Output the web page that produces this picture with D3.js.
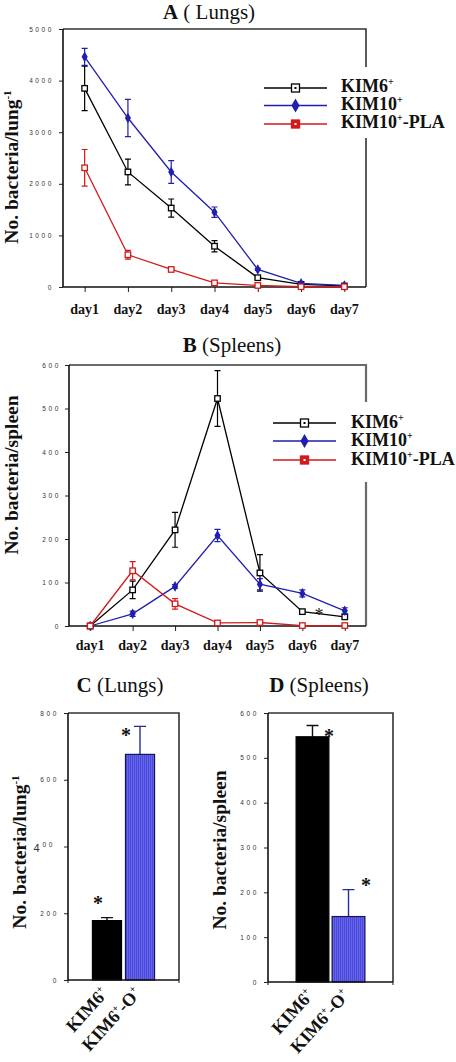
<!DOCTYPE html>
<html><head><meta charset="utf-8">
<script src="https://cdn.jsdelivr.net/npm/d3@7"></script>
<style>body{margin:0;background:#fff}svg{display:block}</style>
</head><body>
<script>
// ---------- data ----------
const days = ["day1","day2","day3","day4","day5","day6","day7"];
const seriesNames = ["KIM6", "KIM10", "KIM10"];   // legend base names
const seriesSuffix = ["", "", "-PLA"];

const lungKIM6     = [3850, 2230, 1530, 790, 180, 50, 20];
const lungKIM6Err  = [430, 250, 175, 110, 20, 8, 5];
const lungKIM10    = [4460, 3275, 2230, 1450, 340, 70, 30];
const lungKIM10Err = [165, 360, 220, 100, 20, 8, 5];
const lungPLA      = [2310, 625, 340, 80, 30, 5, 5];
const lungPLAErr   = [355, 85, 25, 10, 5, 0, 0];

const splKIM6      = [0, 83, 221, 523, 122, 33, 21];
const splKIM6Err   = [0, 20, 40, 64, 42, 3, 6];
const splKIM10     = [0, 28, 91, 208, 96, 75, 35];
const splKIM10Err  = [0, 6, 4, 14, 13, 8, 7];
const splPLA       = [0, 127, 51, 7, 8, 1, 1];
const splPLAErr    = [0, 21, 12, 1, 1, 0, 0];

const barCats      = ["KIM6", "KIM6-O"];
const lungBars     = [178, 676];
const lungBarErr   = [9, 84];
const spleenBars   = [547, 146];
const spleenBarErr = [25, 60];

const lungTicks   = [0, 1000, 2000, 3000, 4000, 5000];
const spleenTicks = [0, 100, 200, 300, 400, 500, 600];
const lungCTicks  = [0, 200, 400, 600, 800];

// ---------- setup ----------
const W = 456, H = 1062;
const svg = d3.select("body").append("svg").attr("width", W).attr("height", H);
const serif = "'Liberation Serif','Times New Roman',serif";
const sans = "'Liberation Sans',Arial,sans-serif";
const BLACK = "#000", BLUE = "#1f1fb0", RED = "#d21a1a";

// blue bar pattern (vertical fine stripes)
const defs = svg.append("defs");
const pat = defs.append("pattern").attr("id","stripes").attr("patternUnits","userSpaceOnUse")
  .attr("width", 2).attr("height", 4);
pat.append("rect").attr("width",2).attr("height",4).attr("fill","#6464ee");
pat.append("rect").attr("width",1).attr("height",4).attr("fill","#4a4ad6");

function title(x, y, letter, rest) {
  const t = svg.append("text").attr("x", x).attr("y", y).attr("text-anchor","middle")
    .attr("font-family", serif).attr("font-size", 21).attr("fill","#111");
  t.append("tspan").attr("font-weight","bold").text(letter);
  t.append("tspan").text(rest);
}

function yLabel(x, y, base, sup) {
  const t = svg.append("text").attr("transform", `translate(${x},${y}) rotate(-90)`)
    .attr("text-anchor","middle").attr("font-family", serif).attr("font-weight","bold")
    .attr("font-size", 19.5).attr("fill","#111");
  t.append("tspan").text(base);
  if (sup) t.append("tspan").attr("font-size", 11).attr("dy", -7).text(sup);
}

function yAxis(y, x0, majors, minors, labelX) {
  const g = svg.append("g").attr("transform", `translate(${x0},0)`);
  g.call(d3.axisLeft(y).tickValues(minors).tickSize(2.5).tickFormat(""));
  g.call(d3.axisLeft(y).tickValues(majors).tickSize(4).tickFormat(d3.format("d")));
  g.selectAll(".domain").remove();
  g.selectAll("line").attr("stroke","#222").attr("stroke-width",1);
  g.selectAll("text").attr("font-family", sans).attr("font-size", 6.5)
    .attr("letter-spacing", 2.6).attr("fill","#333").attr("x", labelX - x0);
  return g;
}

function marker(g, type, x, y, color, size, legend) {
  if (type === "sq") {
    const s = size;
    g.append("rect").attr("x", x - s/2).attr("y", y - s/2).attr("width", s).attr("height", s)
      .attr("fill", legend && color === RED ? RED : "#fff").attr("stroke", color).attr("stroke-width", 1.3);
    if (legend) g.append("rect").attr("x", x - 1).attr("y", y - 1).attr("width", 2).attr("height", 2)
      .attr("fill", color === RED ? "#fff" : "#000");
  } else {
    g.append("path").attr("transform", `translate(${x},${y})`)
      .attr("d", d3.symbol().type(d3.symbolDiamond).size(size * size * 0.9)())
      .attr("fill", color);
  }
}

function linePanel(o) {
  const x = d3.scaleLinear().domain([0.5, 7.5]).range([o.x0, o.x1]);
  const y = d3.scaleLinear().domain([0, o.max]).range([o.y0, o.y1]);
  svg.append("path").attr("d", `M${o.x0},${o.y1}H${o.x1}V${o.y0}`)
    .attr("fill","none").attr("stroke", o.frame).attr("stroke-width", o.frameW);
  yAxis(y, o.x0, o.majors, o.minors, o.labelX);
  const xg = svg.append("g").attr("transform", `translate(0,${o.y0})`);
  xg.call(d3.axisBottom(x).tickValues(d3.range(0.5, 7.51, 0.5)).tickSize(3).tickFormat(""));
  xg.call(d3.axisBottom(x).tickValues(d3.range(1, 8)).tickSize(5).tickFormat(""));
  xg.selectAll(".domain").remove();
  xg.selectAll("line").attr("stroke","#222").attr("stroke-width",1);
  svg.append("line").attr("x1", o.x0).attr("x2", o.x0).attr("y1", o.y1).attr("y2", o.y0)
    .attr("stroke","#111").attr("stroke-width",1.6);
  svg.append("line").attr("x1", o.x0).attr("x2", o.x1).attr("y1", o.y0).attr("y2", o.y0)
    .attr("stroke","#111").attr("stroke-width",1.6);
  svg.append("g").selectAll("text").data(days).join("text")
    .attr("x", (d,i) => x(i+1)).attr("y", o.dayY).attr("text-anchor","middle")
    .attr("font-family", serif).attr("font-weight","bold").attr("font-size", 14).attr("fill","#111")
    .text(d => d);
  svg.append("rect").attr("x", o.legX0 - 6).attr("y", o.legGap[0]).attr("width", W - o.legX0 + 6)
    .attr("height", o.legGap[1] - o.legGap[0]).attr("fill","#fff");
  const line = d3.line().x((d,i) => x(i+1)).y(d => y(d));
  o.series.forEach(s => {
    const g = svg.append("g");
    g.append("path").attr("d", line(s.vals)).attr("fill","none").attr("stroke", s.color).attr("stroke-width", 1.3);
    s.vals.forEach((v,i) => {
      const e = s.errs[i];
      if (e > 0) {
        const cx = x(i+1);
        g.append("path").attr("d", `M${cx},${y(v+e)}V${y(Math.max(0,v-e))}M${cx-3},${y(v+e)}H${cx+3}M${cx-3},${y(Math.max(0,v-e))}H${cx+3}`)
          .attr("stroke", s.color).attr("stroke-width", 1.2).attr("fill","none");
      }
    });
    s.vals.forEach((v,i) => marker(g, s.marker, x(i+1), y(v), s.color, s.marker === "sq" ? 5.5 : 6, false));
  });
  o.series.forEach((s, i) => {
    const ly = o.legY[i];
    svg.append("line").attr("x1", o.legX0).attr("x2", o.legX1).attr("y1", ly).attr("y2", ly)
      .attr("stroke", s.color).attr("stroke-width", 1.5);
    marker(svg, s.marker, (o.legX0 + o.legX1) / 2, ly, s.color, 8, true);
    const t = svg.append("text").attr("x", o.legTextX).attr("y", ly + o.legDy)
      .attr("font-family", serif).attr("font-weight","bold").attr("font-size", 18).attr("fill","#111");
    t.append("tspan").text(seriesNames[i]);
    t.append("tspan").attr("font-size", 10).attr("dy", -7).text("+");
    if (seriesSuffix[i]) t.append("tspan").attr("dy", 7).text(seriesSuffix[i]);
  });
  return {x, y};
}

// ---------- Panel A ----------
title(209, 19, "A", " ( Lungs)");
linePanel({
  x0: 63, x1: 366, y0: 287, y1: 29, max: 5000,
  majors: lungTicks, minors: d3.range(500, 5000, 1000), labelX: 54,
  frame: "#333", frameW: 1.6, dayY: 314,
  legX0: 264, legX1: 327, legTextX: 341, legY: [88, 105.5, 124], legDy: 4, legGap: [67, 138],
  series: [
    {vals: lungKIM6, errs: lungKIM6Err, color: BLACK, marker: "sq"},
    {vals: lungKIM10, errs: lungKIM10Err, color: BLUE, marker: "dia"},
    {vals: lungPLA, errs: lungPLAErr, color: RED, marker: "sq"}
  ]
});
yLabel(18, 167, "No. bacteria/lung", "-1");

// ---------- Panel B ----------
title(232, 352, "B", " (Spleens)");
const pB = linePanel({
  x0: 69, x1: 366, y0: 626, y1: 365, max: 600,
  majors: spleenTicks, minors: d3.range(50, 600, 100), labelX: 61,
  frame: "#6a6a6a", frameW: 2.2, dayY: 650,
  legX0: 273, legX1: 336, legTextX: 351, legY: [423, 441, 460], legDy: 5, legGap: [402, 482],
  series: [
    {vals: splKIM6, errs: splKIM6Err, color: BLACK, marker: "sq"},
    {vals: splKIM10, errs: splKIM10Err, color: BLUE, marker: "dia"},
    {vals: splPLA, errs: splPLAErr, color: RED, marker: "sq"}
  ]
});
svg.append("text").attr("x", 319).attr("y", 621).attr("text-anchor","middle")
  .attr("font-family", serif).attr("font-size", 18).attr("fill","#222").text("*");
yLabel(17.5, 475, "No. bacteria/spleen");

// ---------- Bar panels ----------
function barPanel(o) {
  const x = d3.scaleBand().domain(barCats).range([o.x0, o.x1]).paddingInner(o.pi).paddingOuter(o.po);
  const y = d3.scaleLinear().domain([0, o.max]).range([o.y0, o.y1]);
  svg.append("path").attr("d", `M${o.x0},${o.y1}H${o.x1}V${o.y0}`)
    .attr("fill","none").attr("stroke","#333").attr("stroke-width", 1.6);
  const g = yAxis(y, o.x0, o.majors, o.minors, o.labelX);
  if (o.fix) o.fix(g);
  o.vals.forEach((v, i) => {
    const c = barCats[i];
    const bx = x(c), bw = x.bandwidth();
    const cx = bx + bw / 2;
    svg.append("path").attr("d", `M${cx},${y(v)}V${y(v + o.errs[i])}M${cx-6},${y(v + o.errs[i])}H${cx+6}`)
      .attr("stroke", i === 0 ? "#111" : "#2a2aa0").attr("stroke-width", 1.4).attr("fill","none");
    svg.append("rect").attr("x", bx).attr("y", y(v)).attr("width", bw).attr("height", y(0) - y(v))
      .attr("fill", i === 0 ? "#000" : "url(#stripes)").attr("stroke", i === 0 ? "#000" : "#15155a")
      .attr("stroke-width", 1.2);
    svg.append("text").attr("x", o.star[i][0]).attr("y", o.star[i][1]).attr("text-anchor","middle")
      .attr("font-family", serif).attr("font-weight","bold").attr("font-size", 20).attr("fill","#111").text("*");
    const t = svg.append("text").attr("transform", `translate(${cx + 2},${o.y0 + 14}) rotate(-48)`)
      .attr("text-anchor","end").attr("font-family", serif).attr("font-weight","bold")
      .attr("font-size", 18).attr("fill","#111");
    t.append("tspan").text("KIM6");
    t.append("tspan").attr("font-size", 10).attr("dy", -7).text("+");
    if (i === 1) {
      t.append("tspan").attr("dy", 7).text("-O");
      t.append("tspan").attr("font-size", 10).attr("dy", -7).text("+");
    }
  });
  svg.append("line").attr("x1", o.x0).attr("x2", o.x0).attr("y1", o.y1).attr("y2", o.y0)
    .attr("stroke","#111").attr("stroke-width",1.6);
  svg.append("line").attr("x1", o.x0).attr("x2", o.x1).attr("y1", o.y0).attr("y2", o.y0)
    .attr("stroke","#111").attr("stroke-width",1.6);
  [o.x0, o.x1].forEach(xx => svg.append("line").attr("x1", xx).attr("x2", xx).attr("y1", o.y0).attr("y2", o.y0 + 3)
    .attr("stroke","#111").attr("stroke-width",1));
}

// ---------- Panel C ----------
title(120, 692, "C", " (Lungs)");
barPanel({
  x0: 68, x1: 179, y0: 980, y1: 713, max: 800, pi: 0.12, po: 0.74,
  majors: lungCTicks, minors: d3.range(0, 800, 200 / 3).filter(v => Math.abs(v % 200) > 1),
  labelX: 59, vals: lungBars, errs: lungBarErr,
  star: [[98, 910], [126, 742]],
  fix: g => {
    g.selectAll(".tick text").filter(d => d === 400).each(function() {
      const s = d3.select(this); s.text("");
      s.append("tspan").attr("font-size", 11).attr("dy", 5).attr("dx", -4).attr("letter-spacing", 0).text("4");
      s.append("tspan").attr("dy", -5).attr("dx", 3).text("00");
    });
  }
});
yLabel(26, 852, "No. bacteria/lung", "-1");

// ---------- Panel D ----------
title(319, 692, "D", " (Spleens)");
barPanel({
  x0: 268, x1: 393, y0: 982, y1: 713, max: 600, pi: 0.09, po: 0.78,
  majors: spleenTicks, minors: d3.range(50, 600, 100), labelX: 259,
  vals: spleenBars, errs: spleenBarErr,
  star: [[329, 743], [366, 892]]
});
yLabel(226, 850, "No. bacteria/spleen");
</script>
</body></html>
